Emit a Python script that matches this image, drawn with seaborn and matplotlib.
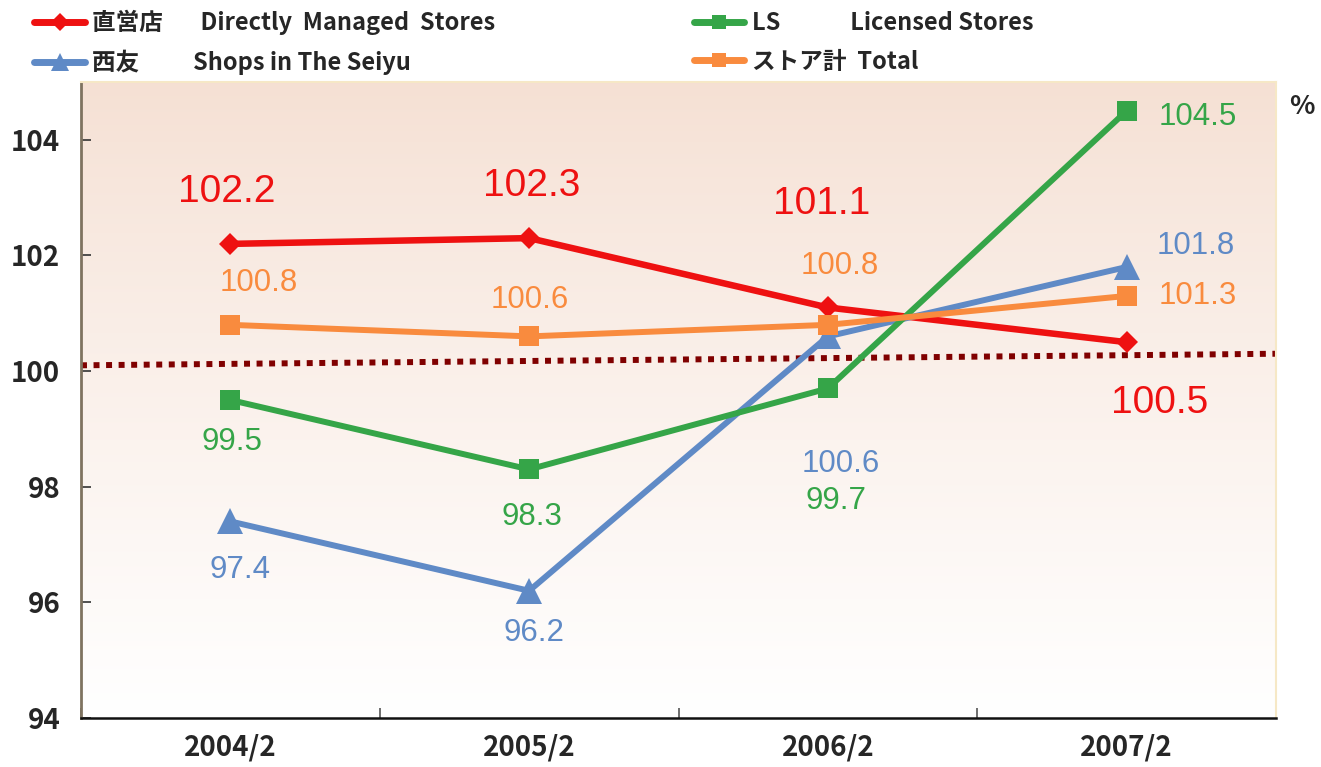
import numpy as np
import matplotlib
matplotlib.use("Agg")
import matplotlib.pyplot as plt
from matplotlib.lines import Line2D
import seaborn as sns

# --- data ---
periods = ["2004/2", "2005/2", "2006/2", "2007/2"]
direct = [102.2, 102.3, 101.1, 100.5]
licensed = [99.5, 98.3, 99.7, 104.5]
seiyu = [97.4, 96.2, 100.6, 101.8]
total = [100.8, 100.6, 100.8, 101.3]
ref_line = [100.1, 100.3]  # dotted reference, left edge -> right edge

legend_labels = ["直営店       Directly  Managed  Stores",
                 "西友          Shops in The Seiyu",
                 "LS             Licensed Stores",
                 "ストア計  Total"]

# --- style ---
sns.set_theme(style="white")
plt.rcParams['font.family'] = ['Noto Sans CJK JP', 'DejaVu Sans']

RED, GREEN, BLUE, ORANGE = "#EE1111", "#35A548", "#5F8AC6", "#F98B3E"

fig = plt.figure(figsize=(13.21, 7.67), dpi=100)
ax = fig.add_axes([81/1321, 1-718/767, (1276-81)/1321, (718-82)/767])

# gradient background (peach at top -> white at bottom)
grad = np.linspace(0, 1, 256)[:, None] ** 0.85
top_c = np.array([0.962, 0.878, 0.828])
bot_c = np.array([1.0, 1.0, 1.0])
img = top_c[None, None, :] * (1 - grad[:, :, None]) + bot_c[None, None, :] * grad[:, :, None]
ax.imshow(img, extent=[-0.5, 3.5, 94, 105], origin="upper", aspect="auto", zorder=0)

ax.plot([-0.5, 3.5], ref_line, color="#800000", lw=4.3, ls=(0, (1, 1.1)),
        dash_capstyle="butt", zorder=1)

series = [
    (direct, RED, "D", 11, 4.7),
    (seiyu, BLUE, "^", 19, 4.3),
    (licensed, GREEN, "s", 14, 4.3),
    (total, ORANGE, "s", 14, 4.3),
]
for vals, col, mk, ms, lw in series:
    sns.lineplot(x=periods, y=vals, ax=ax, color=col, lw=lw, marker=mk,
                 markersize=ms, markeredgewidth=0, zorder=3)

# value labels (offsets in pixels)
offsets = {
    "direct": [(-4, 52), (3, 52), (-6, 103), (33, -61)],
    "total": [(28, 42), (1, 36), (12, 59), (71, 0)],
    "licensed": [(2, -42), (3, -48), (8, -113), (71, -6)],
    "seiyu": [(10, -49), (5, -42), (13, -128), (69, 21)],
}
lab_series = [("direct", direct, RED, 28), ("total", total, ORANGE, 22.5),
              ("licensed", licensed, GREEN, 22.5), ("seiyu", seiyu, BLUE, 22.5)]
for key, vals, col, fs in lab_series:
    for i, v in enumerate(vals):
        dx, dy = offsets[key][i]
        ax.annotate(f"{v:.1f}", (i, v), xytext=(dx, dy), textcoords="offset pixels",
                    ha="center", va="center", color=col, fontsize=fs,
                    family="Liberation Sans", zorder=4)

ax.set_xlim(-0.5, 3.5)
ax.set_ylim(94, 105)
ax.set_yticks([94, 96, 98, 100, 102, 104])
ax.set_yticklabels(["94", "96", "98", "100", "102", "104"],
                   fontsize=20, fontweight="bold")
ax.set_xticks([-0.5, 0.5, 1.5, 2.5, 3.5])
ax.set_xticklabels([])
ax.set_xticks([0, 1, 2, 3], minor=True)
ax.set_xticklabels(periods, minor=True, fontsize=20, fontweight="bold")
ax.tick_params(axis="x", which="major", direction="in", length=7, width=1.2,
               color="#555555", bottom=True)
ax.tick_params(axis="x", which="minor", length=0, pad=11, bottom=True)
ax.tick_params(axis="y", direction="in", length=7, width=1.2, color="#333333",
               pad=15, left=True)
ax.set_xlabel("")
ax.set_ylabel("")
ax.grid(False)

ax.spines["left"].set_color("#7F7360")
ax.spines["left"].set_linewidth(2)
ax.spines["bottom"].set_color("#111111")
ax.spines["bottom"].set_linewidth(1.8)
ax.spines["top"].set_color("#F6E8C6")
ax.spines["right"].set_color("#F6E8C6")
ax.spines["top"].set_linewidth(1.5)
ax.spines["right"].set_linewidth(1.5)

fig.text(1302/1321, 1-107/767, "%", fontsize=19, fontweight="bold",
         ha="center", va="center")

# legend
handles = [
    Line2D([], [], color=RED, lw=5, marker="D", markersize=9, markeredgewidth=0),
    Line2D([], [], color=BLUE, lw=5, marker="^", markersize=13, markeredgewidth=0),
    Line2D([], [], color=GREEN, lw=5, marker="s", markersize=10, markeredgewidth=0),
    Line2D([], [], color=ORANGE, lw=5, marker="s", markersize=10, markeredgewidth=0),
]
leg = fig.legend(handles, legend_labels, ncol=2, loc="upper left",
                 bbox_to_anchor=(32/1321, 0.99), frameon=False,
                 prop={"size": 17, "weight": "bold"},
                 handlelength=2.15, handletextpad=0.3, columnspacing=8.4,
                 labelspacing=0.6, borderaxespad=0.0, borderpad=0.1)

fig.savefig("out.png", dpi=100)
